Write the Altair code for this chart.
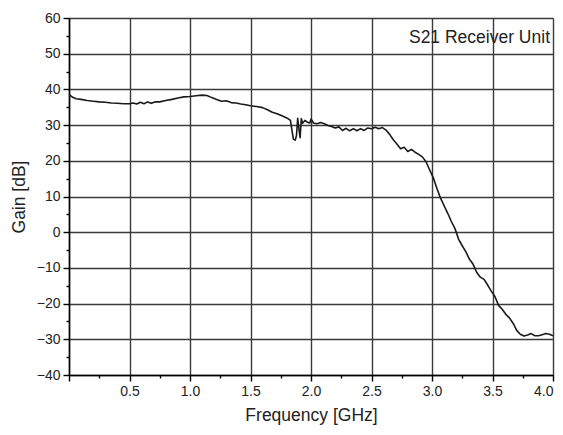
import altair as alt
import pandas as pd

freq = [0.00, 0.03, 0.06, 0.10, 0.15, 0.20, 0.25, 0.30, 0.35, 0.40, 0.45, 0.50,
        0.53, 0.56, 0.59, 0.62, 0.65, 0.68, 0.71, 0.75, 0.80, 0.85, 0.90, 0.95,
        1.00, 1.05, 1.10, 1.14, 1.18, 1.22, 1.26, 1.30, 1.34, 1.38, 1.42, 1.46,
        1.50, 1.55, 1.60, 1.64, 1.68, 1.72, 1.76, 1.80, 1.83, 1.845, 1.855, 1.87,
        1.88, 1.89, 1.90, 1.91, 1.92, 1.93, 1.95, 1.97, 1.99, 2.00, 2.02, 2.05,
        2.08, 2.11, 2.14, 2.17, 2.20, 2.23, 2.26, 2.29, 2.32, 2.35, 2.38, 2.41,
        2.44, 2.47, 2.50, 2.53, 2.56, 2.59, 2.62, 2.65, 2.68, 2.71, 2.74, 2.77,
        2.80, 2.83, 2.86, 2.89, 2.92, 2.95, 2.98, 3.01, 3.04, 3.07, 3.10, 3.13,
        3.16, 3.19, 3.22, 3.25, 3.28, 3.31, 3.34, 3.37, 3.40, 3.43, 3.46, 3.49,
        3.52, 3.55, 3.58, 3.61, 3.64, 3.67, 3.70, 3.73, 3.76, 3.79, 3.82, 3.85,
        3.88, 3.91, 3.94, 3.97, 4.00]
gain = [38.6, 37.8, 37.4, 37.2, 36.9, 36.7, 36.5, 36.4, 36.2, 36.1, 36.0, 36.0,
        36.2, 35.9, 36.4, 36.0, 36.5, 36.1, 36.5, 36.5, 36.9, 37.2, 37.6, 37.9,
        38.0, 38.2, 38.4, 38.3, 37.7, 37.2, 36.7, 36.8, 36.3, 36.2, 35.9, 35.7,
        35.4, 35.2, 34.9, 34.3, 33.6, 33.2, 32.6, 32.0, 31.3, 28.0, 26.0, 25.8,
        27.0, 31.9, 29.0, 26.5, 31.8, 30.5, 31.3, 30.8, 30.6, 31.7, 30.6, 30.4,
        30.7, 30.4, 29.9, 29.6, 29.2, 29.5, 28.5, 29.1, 28.4, 29.0, 28.4, 29.0,
        28.5, 29.2, 29.0, 29.4, 29.0, 29.3, 28.6, 27.4, 25.9, 24.7, 23.4, 23.8,
        22.6, 23.2, 22.4, 21.8, 21.1, 19.8, 17.5, 15.3, 12.3, 9.6, 7.4, 5.3,
        3.0, 1.0, -2.0, -3.8, -5.5, -7.6, -9.0, -11.3, -12.6, -13.2, -14.8, -16.5,
        -18.0, -20.5, -21.6, -23.0, -24.0, -25.5, -27.5, -28.6, -29.1, -28.8, -28.4, -29.0,
        -29.0, -28.7, -28.4, -28.6, -29.0]

x_ticks = [0.0, 0.25, 0.5, 0.75, 1.0, 1.25, 1.5, 1.75, 2.0, 2.25, 2.5, 2.75,
           3.0, 3.25, 3.5, 3.75, 4.0]
y_ticks = [-40, -35, -30, -25, -20, -15, -10, -5, 0, 5, 10, 15, 20, 25, 30,
           35, 40, 45, 50, 55, 60]
title_text = "S21 Receiver Unit"

df = pd.DataFrame({"f": freq, "g": gain})

FONT = "Liberation Sans"
GRID = "#3a3a3a"
TXT = "#222"

x_axis = alt.Axis(
    values=x_ticks,
    title="Frequency [GHz]",
    labelExpr="(datum.value == 0 || datum.value % 0.5 != 0) ? '' : format(datum.value, '.1f')",
    grid=True,
    gridColor={"condition": {"test": "datum.value % 0.5 == 0", "value": GRID}, "value": "transparent"},
    gridWidth=1.4,
    tickSize={"condition": {"test": "datum.value % 0.5 == 0", "value": 6}, "value": 3},
    tickColor="#000",
    tickWidth=1.4,
    domainColor="#000",
    domainWidth=1.5,
    labelFont=FONT, labelFontSize=14, labelColor=TXT, labelPadding=3,
    titleFont=FONT, titleFontSize=17.5, titleFontWeight="normal", titleColor=TXT,
    titlePadding=8,
)
y_axis = alt.Axis(
    values=y_ticks,
    title="Gain [dB]",
    labelExpr="datum.value % 10 != 0 ? '' : format(datum.value, 'd')",
    grid=True,
    gridColor={"condition": {"test": "datum.value % 10 == 0", "value": GRID}, "value": "transparent"},
    gridWidth=1.4,
    tickSize={"condition": {"test": "datum.value % 10 == 0", "value": 6}, "value": 3},
    tickColor="#000",
    tickWidth=1.4,
    domainColor="#000",
    domainWidth=1.5,
    labelFont=FONT, labelFontSize=14, labelColor=TXT, labelPadding=3,
    titleFont=FONT, titleFontSize=17.5, titleFontWeight="normal", titleColor=TXT,
    titlePadding=8,
)

line = alt.Chart(df).mark_line(color="#1a1a1a", strokeWidth=1.6, strokeJoin="round").encode(
    x=alt.X("f:Q", scale=alt.Scale(domain=[0, 4], nice=False, zero=False), axis=x_axis),
    y=alt.Y("g:Q", scale=alt.Scale(domain=[-40, 60], nice=False), axis=y_axis),
)

label = alt.Chart(pd.DataFrame({"t": [title_text]})).mark_text(
    font=FONT, fontSize=17.5, color=TXT, align="right", baseline="middle"
).encode(
    text="t:N",
    x=alt.value(481),
    y=alt.value(20),
)

chart = (line + label).properties(
    width=484, height=357,
    autosize=alt.AutoSizeParams(type="none"),
    padding={"left": 69, "top": 18, "right": 10, "bottom": 60},
).configure_view(stroke="#000", strokeWidth=1.5).configure(background="white")

chart.save("out.html", embed_options={"renderer": "svg", "actions": False})
